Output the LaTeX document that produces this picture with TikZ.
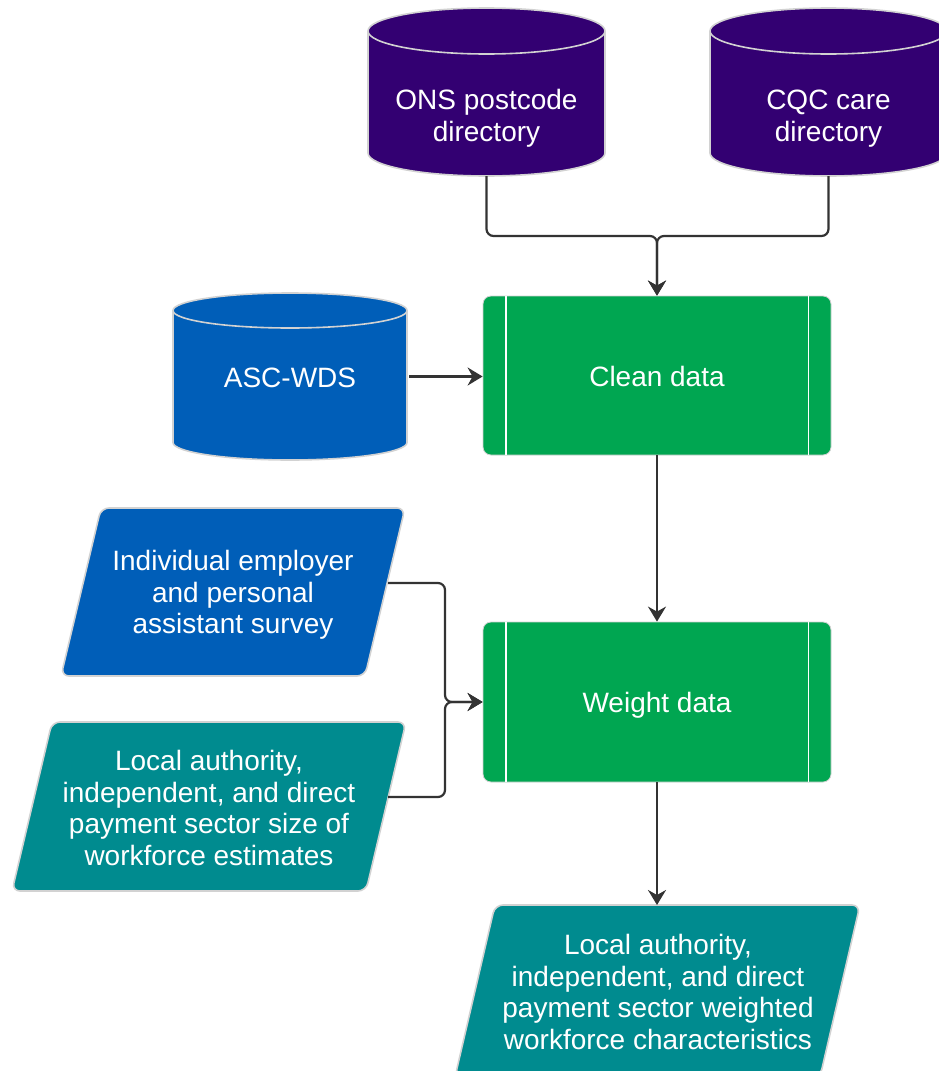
\documentclass[tikz,border=0pt]{standalone}
\usepackage{fontspec}
\setmainfont{Liberation Sans}
\usetikzlibrary{arrows.meta}
\definecolor{cpurple}{HTML}{330072}
\definecolor{cblue}{HTML}{005EB8}
\definecolor{cgreen}{HTML}{00A651}
\definecolor{cteal}{HTML}{008B8F}
\definecolor{cline}{HTML}{333333}
\definecolor{cedge}{HTML}{D2D2D2}
% #1 left, #2 right, #3 top, #4 bottom, #5 ry, #6 colour
\newcommand\cylpath[6]{%
  \path[fill=#6,draw=cedge,line width=1.6pt]
    (#1,{-(#3+#5)}) -- (#1,{-(#4-#5)})
    arc[start angle=180,end angle=360,x radius={(#2-#1)/2},y radius=#5]
    -- (#2,{-(#3+#5)})
    arc[start angle=0,end angle=180,x radius={(#2-#1)/2},y radius=#5] -- cycle;
  \draw[cedge,line width=1.6pt] (#1,{-(#3+#5)})
    arc[start angle=180,end angle=360,x radius={(#2-#1)/2},y radius=#5];
}
\begin{document}
\begin{tikzpicture}[x=1pt,y=1pt,
  lbl/.style={text=white,align=center,inner sep=0pt,
    font=\fontsize{28}{31.5}\selectfont},
  box/.style={draw=none,inner sep=0pt},
  proc/.style={fill=cgreen,draw=cedge,line width=0.8pt,rounded corners=8pt,
    minimum width=348,minimum height=159,inner sep=0pt},
  para/.style={draw=cedge,line width=1.6pt,rounded corners=8pt},
  conn/.style={draw=cline,line width=2.2pt,rounded corners=7pt,
    -{Stealth[length=15pt,width=18pt,inset=5pt]}},
  inner/.style={draw=white,line width=1.8pt}]
\useasboundingbox (0,0) rectangle (939,-1071);
\clip (0,0) rectangle (939,-1071);

% cylinders
\cylpath{368}{605}{8}{176}{23}{cpurple}
\node[box,minimum width=237,minimum height=168] (ons) at (486.5,-92) {};
\node[lbl] (onsT) at (486.5,-118.5) {ONS postcode\\directory};

\cylpath{710}{947}{8}{176}{23}{cpurple}
\node[box,minimum width=237,minimum height=168] (cqc) at (828.5,-92) {};
\node[lbl] (cqcT) at (828.5,-118.5) {CQC care\\directory};

\cylpath{173}{407}{293}{460}{17.5}{cblue}
\node[box,minimum width=234,minimum height=167] (asc) at (290,-376.5) {};
\node[lbl] (ascT) at (290,-377.5) {ASC-WDS};

% process boxes
\node[proc] (clean) at (657,-375.5) {};
\draw[inner] ([xshift=23pt]clean.north west) -- ([xshift=23pt]clean.south west);
\draw[inner] ([xshift=-23pt]clean.north east) -- ([xshift=-23pt]clean.south east);
\node[lbl] (cleanT) at (657,-376) {Clean data};

\node[proc,minimum height=160] (weight) at (657,-702) {};
\draw[inner] ([xshift=23pt]weight.north west) -- ([xshift=23pt]weight.south west);
\draw[inner] ([xshift=-23pt]weight.north east) -- ([xshift=-23pt]weight.south east);
\node[lbl] (weightT) at (657,-705) {Weight data};

% parallelograms
\path[para,fill=cblue] (101,-508) -- (405,-508) -- (365,-676) -- (61,-676) -- cycle;
\node[lbl] (ind) at (233,-595) {Individual employer\\and personal\\assistant survey};

\path[para,fill=cteal] (52,-722) -- (406,-722) -- (366,-891) -- (12,-891) -- cycle;
\node[lbl] (loc) at (209,-808) {Local authority,\\independent, and direct\\payment sector size of\\workforce estimates};

\path[para,fill=cteal] (495,-905) -- (860,-905) -- (820,-1077) -- (455,-1077) -- cycle;
\node[lbl] (out) at (658,-992) {Local authority,\\independent, and direct\\payment sector weighted\\workforce characteristics};

% connector ends
\coordinate (indR) at (388,-583);
\coordinate (locR) at (388,-797);
\coordinate (outTop) at (657,-905);
\coordinate (jTop) at (657,-236);
\coordinate (jLeft) at (445,-702);

% connectors
\draw[conn] (ons.south) -- (ons.south |- jTop) -- (jTop) -- (clean.north);
\draw[conn] (cqc.south) -- (cqc.south |- jTop) -- (jTop) -- (clean.north);
\draw[conn] (asc.east) ++(2,0) -- (clean.west |- asc.east);
\draw[conn] (clean.south) -- (weight.north);
\draw[conn] (indR) -- (jLeft |- indR) -- (jLeft) -- (weight.west);
\draw[conn] (locR) -- (jLeft |- locR) -- (jLeft) -- (weight.west);
\draw[conn] (weight.south) -- (outTop);
\end{tikzpicture}
\end{document}
